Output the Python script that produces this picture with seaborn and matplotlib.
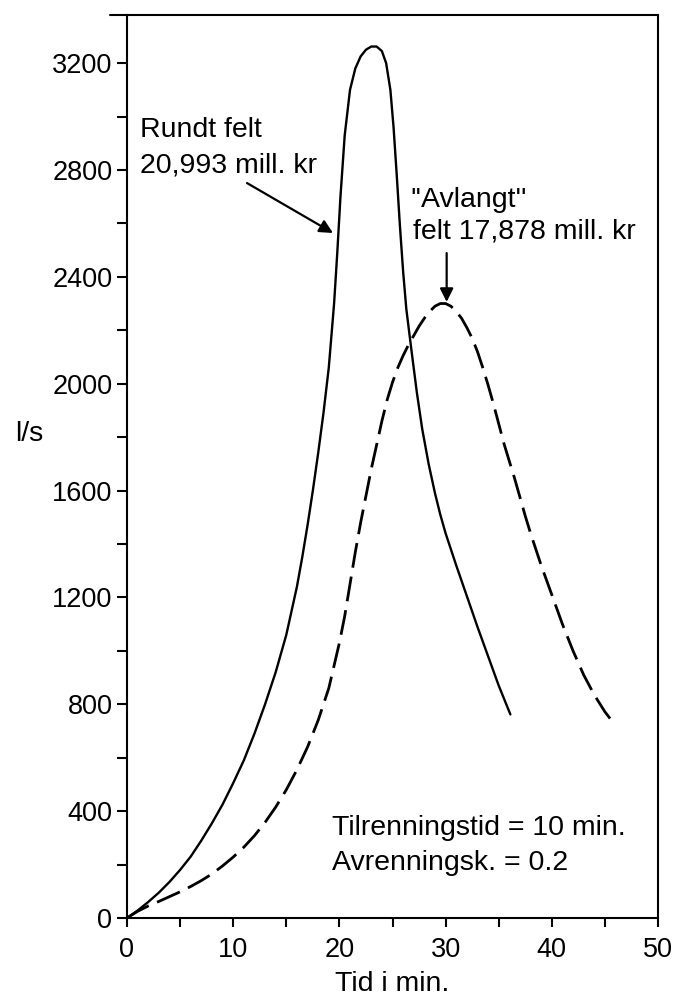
import matplotlib
matplotlib.use("Agg")
import matplotlib.pyplot as plt
from matplotlib.ticker import MultipleLocator
import seaborn as sns
import pandas as pd

# ---- data ----
rund_x = [0, 1, 2, 3, 4, 5, 6, 7, 8, 9, 10, 11, 12, 13, 14, 15, 16, 16.5, 17, 17.5, 18,
          18.5, 19, 19.5, 19.8, 20.1, 20.5, 21, 21.5, 22, 22.5, 23, 23.5, 24, 24.4, 24.8,
          25.1, 25.4, 25.7, 26.0, 26.3, 26.8, 27.3, 27.8, 28.4, 29, 29.5, 30, 31, 32, 33,
          34, 35, 36.1]
rund_y = [0, 28, 60, 95, 135, 180, 230, 290, 355, 425, 505, 590, 690, 800, 920, 1060,
          1240, 1350, 1470, 1600, 1740, 1890, 2060, 2300, 2490, 2700, 2930, 3100, 3180,
          3225, 3250, 3262, 3262, 3245, 3200, 3100, 2960, 2780, 2590, 2420, 2280, 2120,
          1965, 1830, 1700, 1590, 1510, 1440, 1320, 1205, 1090, 980, 870, 762]

avl_x = [0, 1, 2, 3, 4, 5, 6, 7, 8, 9, 10, 11, 12, 13, 14, 15, 16, 17, 18, 19, 20, 20.5,
         21, 21.5, 22, 22.5, 23, 23.5, 24, 24.5, 25, 25.5, 26, 26.5, 27, 27.5, 28, 28.5,
         29, 29.5, 30, 30.5, 31, 31.5, 32, 32.5, 33, 33.5, 34, 34.5, 35, 35.5, 36, 36.5,
         37, 37.5, 38, 39, 40, 41, 42, 43, 44, 45, 45.9]
avl_y = [0, 25, 45, 62, 80, 98, 118, 140, 165, 195, 228, 265, 308, 358, 415, 480, 555,
         640, 740, 860, 1030, 1130, 1250, 1370, 1480, 1580, 1680, 1770, 1860, 1940, 2005,
         2060, 2105, 2145, 2180, 2215, 2245, 2270, 2290, 2300, 2300, 2290, 2270, 2245,
         2210, 2170, 2120, 2060, 1995, 1925, 1850, 1775, 1710, 1645, 1575, 1505, 1440,
         1320, 1210, 1100, 1000, 910, 835, 772, 725]

x_ticks = [0, 10, 20, 30, 40, 50]
y_ticks = [0, 400, 800, 1200, 1600, 2000, 2400, 2800, 3200]

label_rund = ["Rundt felt", "20,993 mill. kr"]
label_avl = ["''Avlangt''", "felt 17,878 mill. kr"]
label_info = ["Tilrenningstid = 10 min.", "Avrenningsk. = 0.2"]
x_label = "Tid i min."
y_label = "l/s"

# ---- style ----
sns.set_style("ticks")
plt.rcParams["font.family"] = ["Liberation Sans", "DejaVu Sans"]
plt.rcParams["lines.scale_dashes"] = False
plt.rcParams["text.color"] = "black"
plt.rcParams["axes.labelcolor"] = "black"
plt.rcParams["xtick.color"] = "black"
plt.rcParams["ytick.color"] = "black"

fig = plt.figure(figsize=(6.8, 9.99), dpi=100)
ax = fig.add_axes([127 / 680, 81 / 999, 531 / 680, 903 / 999])

df_r = pd.DataFrame({"t": rund_x, "q": rund_y})
df_a = pd.DataFrame({"t": avl_x, "q": avl_y})
sns.lineplot(data=df_r, x="t", y="q", ax=ax, color="black", lw=1.7, sort=False)
sns.lineplot(data=df_a, x="t", y="q", ax=ax, color="black", lw=2.0, sort=False,
             linestyle=(0, (18, 6.5)))
for ln in ax.get_lines():
    ln.set_solid_joinstyle("round")
    ln.set_dash_joinstyle("round")

ax.set_xlim(0, 50)
ax.set_ylim(0, 3380)
ax.set_xticks(x_ticks)
ax.set_yticks(y_ticks)
ax.xaxis.set_minor_locator(MultipleLocator(5))
ax.yaxis.set_minor_locator(MultipleLocator(200))
ax.tick_params(axis="both", which="both", direction="out", color="black",
               labelcolor="black", width=1.5)
ax.tick_params(axis="x", which="both", length=6.5, pad=7, labelsize=19.5)
ax.tick_params(axis="y", which="both", length=7, pad=3.5, labelsize=19.5)

for s in ax.spines.values():
    s.set_visible(True)
    s.set_linewidth(1.5)
    s.set_color("black")
# small overhang of the top frame line to the left
ax.plot([-0.032, 0], [1, 1], transform=ax.transAxes, color="black", lw=1.5, clip_on=False)

ax.set_xlabel(x_label, fontsize=20.5, va="baseline", ha="center", color="black")
ax.xaxis.set_label_coords(0.5, -0.081)
ax.set_ylabel(y_label, fontsize=20.5, rotation=0, ha="left", va="baseline", color="black")
ax.yaxis.set_label_coords(-0.211, 0.528)

fs = 20.5
ax.text(1.25, 2923, label_rund[0], fontsize=fs, va="baseline", ha="left")
ax.text(1.25, 2789, label_rund[1], fontsize=fs, va="baseline", ha="left")
ax.annotate("", xy=(19.4, 2564), xytext=(11.3, 2751),
            arrowprops=dict(arrowstyle="-|>", color="black", lw=1.6,
                            mutation_scale=20, shrinkA=0, shrinkB=0))

ax.text(26.65, 2661, label_avl[0], fontsize=fs, va="baseline", ha="left")
ax.text(26.9, 2545, label_avl[1], fontsize=fs, va="baseline", ha="left")
ax.annotate("", xy=(30.1, 2306), xytext=(30.1, 2489),
            arrowprops=dict(arrowstyle="-|>", color="black", lw=1.6,
                            mutation_scale=20, shrinkA=0, shrinkB=0))

ax.text(19.3, 311, label_info[0], fontsize=fs, va="baseline", ha="left")
ax.text(19.3, 180, label_info[1], fontsize=fs, va="baseline", ha="left")

fig.savefig("out.png", dpi=100)
